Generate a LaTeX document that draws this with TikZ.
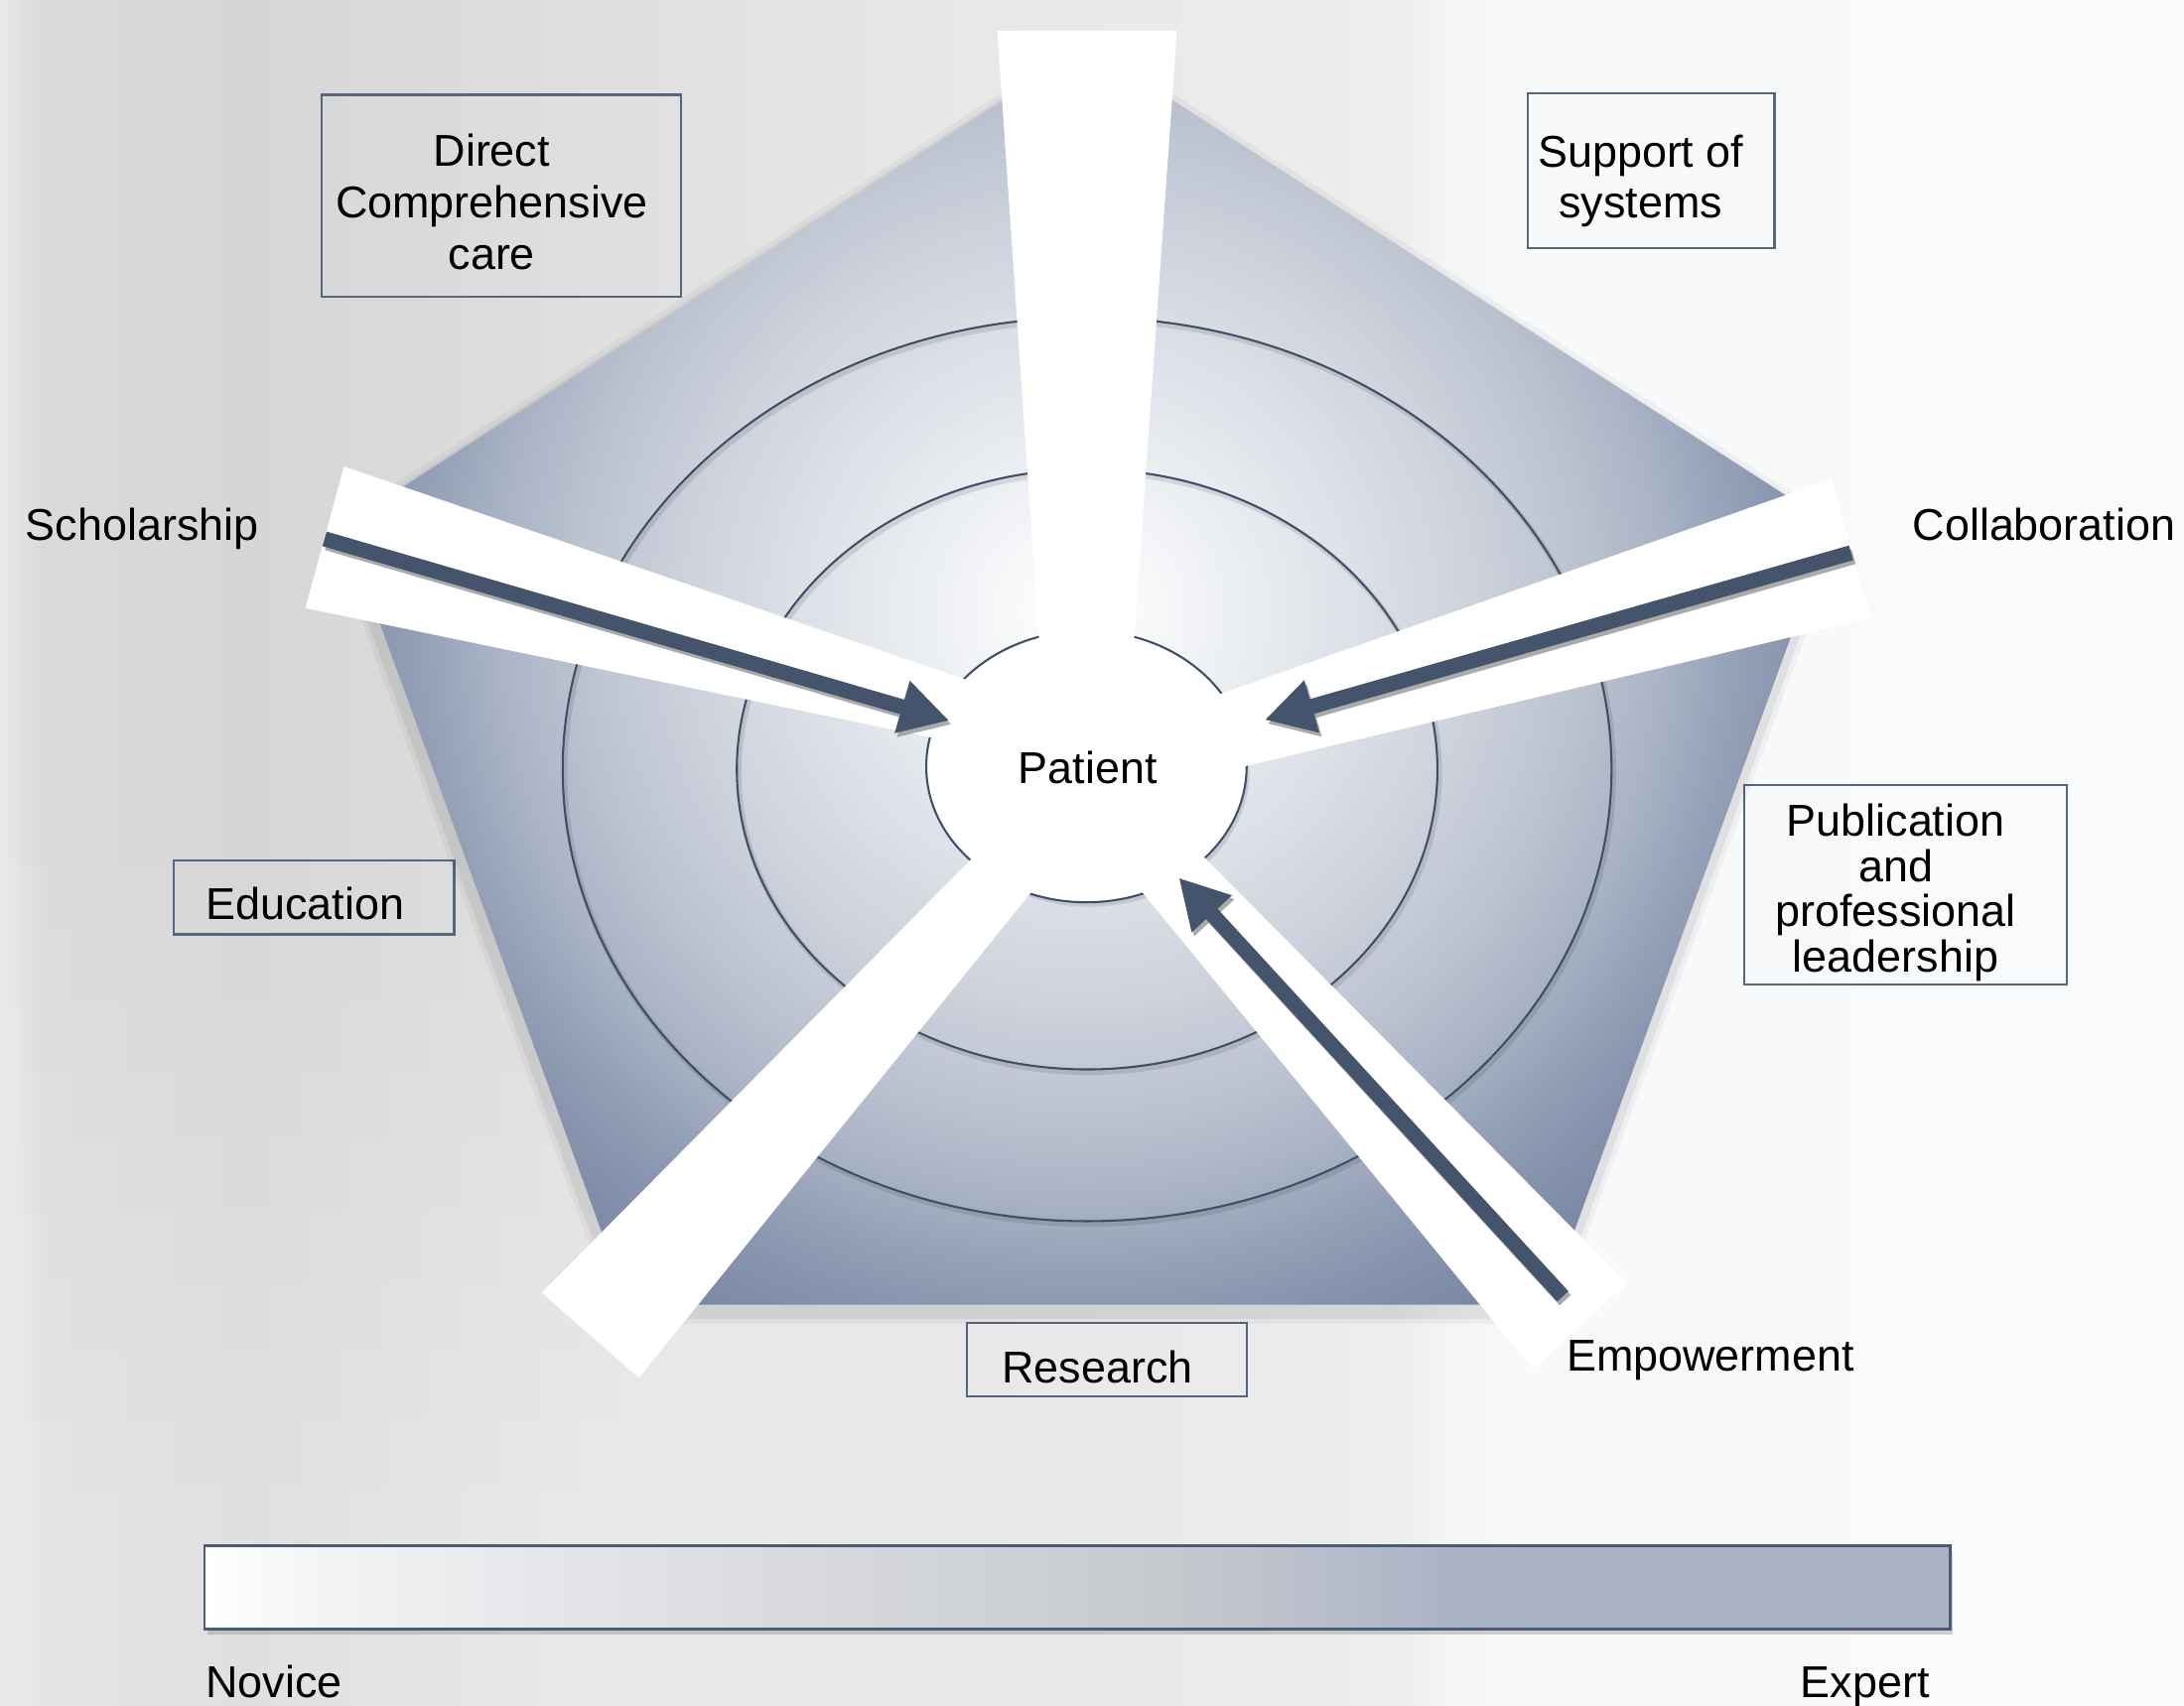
\documentclass[tikz,border=0pt]{standalone}
\usepackage{fontspec}
\setmainfont{Liberation Sans}
\usetikzlibrary{arrows.meta,shadows}
\definecolor{bg0}{HTML}{E9E9E9}
\definecolor{bg1}{HTML}{DADADA}
\definecolor{bg2}{HTML}{D6D6D6}
\definecolor{bg3}{HTML}{DEDEDE}
\definecolor{bg4}{HTML}{E8E8E8}
\definecolor{bg5}{HTML}{EDEDED}
\definecolor{bg6}{HTML}{F4F5F6}
\definecolor{bg7}{HTML}{F8F9FB}
\definecolor{bg8}{HTML}{F9FAFC}
\definecolor{pe0}{HTML}{F6F7F9}
\definecolor{pe1}{HTML}{EAEDF1}
\definecolor{pe2}{HTML}{DCE0E7}
\definecolor{pe3}{HTML}{CDD2DC}
\definecolor{pe4}{HTML}{BCC3D0}
\definecolor{pe5}{HTML}{A9B3C5}
\definecolor{pe6}{HTML}{95A1B7}
\definecolor{pe7}{HTML}{8693AD}
\definecolor{pe8}{HTML}{74829E}
\definecolor{pe9}{HTML}{71809C}
\definecolor{br1}{HTML}{F3F4F5}
\definecolor{br2}{HTML}{E4E6E9}
\definecolor{br3}{HTML}{D6D8DC}
\definecolor{br4}{HTML}{C6CACF}
\definecolor{br5}{HTML}{B8BECA}
\definecolor{br6}{HTML}{A9B2C5}
\definecolor{ringcol}{HTML}{3D4E66}
\definecolor{boxline}{HTML}{56667D}
\definecolor{arrcol}{HTML}{43546C}
\definecolor{shcol}{HTML}{8E8E8E}
\definecolor{barline}{HTML}{4B5B72}
% x positions (px/1568*50+25): 0,30,180,400,700,1000,1045,1090,1568
\pgfdeclarehorizontalshading{bgshade}{100bp}{color(0bp)=(bg0); color(25bp)=(bg0); color(26bp)=(bg1); color(30.7bp)=(bg2); color(37.8bp)=(bg3); color(47.3bp)=(bg4); color(56.9bp)=(bg5); color(58.3bp)=(bg6); color(59.8bp)=(bg7); color(75bp)=(bg8); color(100bp)=(bg8)}
\pgfdeclarehorizontalshading{barshade}{100bp}{color(0bp)=(white); color(25bp)=(white); color(28.3bp)=(br1); color(35bp)=(br2); color(43bp)=(br3); color(52.3bp)=(br4); color(57bp)=(br5); color(61bp)=(br6); color(75bp)=(br6); color(100bp)=(br6)}
\pgfdeclareradialshading{pentshade}{\pgfpoint{0bp}{0bp}}{color(0bp)=(white); color(2.3bp)=(pe0); color(4.6bp)=(pe1); color(7.7bp)=(pe2); color(10.8bp)=(pe3); color(13.8bp)=(pe4); color(16.2bp)=(pe5); color(18.1bp)=(pe6); color(20bp)=(pe7); color(23.1bp)=(pe8); color(25bp)=(pe9); color(50bp)=(pe9)}
\begin{document}
\begin{tikzpicture}[x=0.01cm,y=-0.01cm,
  lbl/.style={font=\fontsize{9.1}{10.5}\selectfont, text=black, inner sep=0pt, text height=6.5pt, text depth=0pt},
  mlbl/.style={font=\fontsize{9.1}{10.5}\selectfont, text=black, inner sep=0pt, align=center},
  boxframe/.style={draw=boxline, line width=0.45pt},
  ring/.style={draw=ringcol, line width=0.42pt},
  ringshadow/.style={draw=black, opacity=0.10, line width=1.1pt},
  pentglow/.style={draw=black, line join=round},
  band/.style={fill=white, draw=none},
  arr/.style={draw=arrcol, line width=3.1pt, -{Triangle[length=10pt,width=10.4pt]}},
  arrshadow/.style={draw=shcol, line width=3.1pt, -{Triangle[length=10pt,width=10.4pt]}, opacity=0.75, transform canvas={xshift=0.5pt,yshift=-0.8pt}},
]
% background
\useasboundingbox (0,0) rectangle (1568,1225);
\path[shading=bgshade] (0,0) rectangle (1568,1225);
\foreach \k in {0,...,9}{
  \path[fill=white, opacity=0.045] (0,{620+\k*50}) rectangle (1040,1225);
}

% boxes
\path[boxframe] (231,68) rectangle (489,213);
\path[boxframe] (1097,67) rectangle (1274,178);
\path[boxframe] (125,618) rectangle (326,671);
\path[boxframe] (694,950) rectangle (895,1003);
\path[boxframe] (1252,564) rectangle (1484,707);

% pentagon
\coordinate (P1) at (781,33);
\coordinate (P2) at (1315,377);
\coordinate (P3) at (1111,937);
\coordinate (P4) at (451,937);
\coordinate (P5) at (247,377);
\begin{scope}[transform canvas={xshift=-0.3pt,yshift=-1.4pt}]
\path[pentglow, opacity=0.04, line width=5pt] (P1) -- (P2) -- (P3) -- (P4) -- (P5) -- cycle;
\path[pentglow, opacity=0.06, line width=3pt] (P1) -- (P2) -- (P3) -- (P4) -- (P5) -- cycle;
\end{scope}
\begin{scope}
\clip (P1) -- (P2) -- (P3) -- (P4) -- (P5) -- cycle;
\path[shading=pentshade] (125,-210) rectangle (1425,1090);
\end{scope}

% rings
\coordinate (ctr) at (780.5,552.5);
\path[ringshadow, transform canvas={xshift=0.4pt,yshift=-0.6pt}] (ctr) ellipse [x radius=376.5, y radius=324.5];
\path[ringshadow, transform canvas={xshift=0.4pt,yshift=-0.6pt}] (ctr) ellipse [x radius=251.5, y radius=215.5];
\path[ring] (ctr) ellipse [x radius=376.5, y radius=324.5];
\path[ring] (ctr) ellipse [x radius=251.5, y radius=215.5];

% patient circle
\coordinate (pc) at (780,550.5);
\path[ring, fill=white, drop shadow={shadow xshift=0.6pt, shadow yshift=-0.9pt, opacity=0.25}] (pc) ellipse [x radius=115, y radius=97.5];

% white bands
\path[band] (716,22) -- (845,22) -- (812,490) -- (748,490) -- cycle;
\path[band] (247,335) -- (700,490.4) -- (700,536.2) -- (219.3,436.7) -- cycle;
\path[band] (1315,344) -- (860,504) -- (860,558.3) -- (1343,444) -- cycle;
\path[band] (389,928.4) -- (720.6,593.5) -- (760.7,615.6) -- (458.7,989.6) -- cycle;
\path[band] (1168.6,922) -- (841.6,592.6) -- (799.7,615.8) -- (1100.5,983.3) -- cycle;

% arrows
\coordinate (schTail) at (233,387);
\coordinate (schTip) at (681.5,517.5);
\coordinate (colTail) at (1329,397);
\coordinate (colTip) at (908,517);
\coordinate (empTail) at (1122,931);
\coordinate (empTip) at (846.3,630.4);
\draw[arrshadow] (schTail) -- (schTip);
\draw[arrshadow] (colTail) -- (colTip);
\draw[arrshadow] (empTail) -- (empTip);
\draw[arr] (schTail) -- (schTip);
\draw[arr] (colTail) -- (colTip);
\draw[arr] (empTail) -- (empTip);

% labels
\node[lbl] (patient) at (781,551) {Patient};
\node[mlbl] (direct) at (353,145) {Direct\\Comprehensive\\care};
\node[mlbl] (support) at (1178,130) {Support of\\systems};
\node[mlbl, font=\fontsize{9.1}{9.3}\selectfont] (publ) at (1361,641) {Publication\\and\\professional\\leadership};
\node[lbl] (educ) at (219,649) {Education};
\node[lbl] (resea) at (788,982) {Research};
\node[lbl] (scholar) at (102,377) {Scholarship};
\node[lbl] (collab) at (1467.5,377) {Collaboration};
\node[lbl] (empow) at (1228,973) {Empowerment};

% novice-expert bar
\path[draw=barline, line width=0.5pt, shading=barshade, drop shadow={shadow xshift=0.5pt, shadow yshift=-1.2pt, opacity=0.35}] (147,1110) rectangle (1400,1170);
\node[lbl, anchor=west] (novice) at (147,1208) {Novice};
\node[lbl, anchor=east] (expert) at (1386,1208) {Expert};
\end{tikzpicture}
\end{document}
